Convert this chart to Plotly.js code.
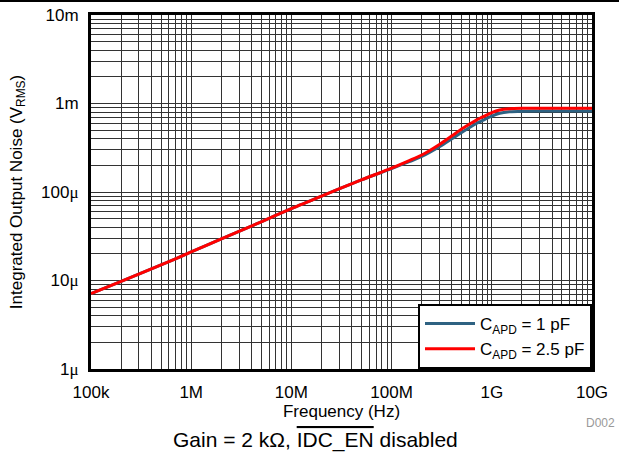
<!DOCTYPE html>
<html>
<head>
<meta charset="utf-8">
<script src="https://cdn.plot.ly/plotly-3.0.1.min.js"></script>
<style>html,body{margin:0;padding:0;background:#fff;}#chart{width:619px;height:457px;}</style>
</head>
<body>
<div id="chart"></div>
<script>
// Frequency (Hz)
const freq = [1e5, 2e5, 5e5, 1e6, 2e6, 5e6, 1e7, 2e7, 5e7, 1e8, 1.5e8, 2e8, 3e8, 4e8, 5e8, 6e8, 7e8, 8e8, 1e9, 1.2e9, 1.5e9, 2e9, 3e9, 5e9, 1e10];
// Integrated output noise (V RMS)
const noise1pF = [7.1e-6, 9.8e-6, 15.0e-6, 21e-6, 29.5e-6, 46e-6, 65e-6, 90e-6, 137e-6, 184e-6, 220e-6, 252e-6, 325e-6, 400e-6, 472e-6, 535e-6, 595e-6, 640e-6, 720e-6, 775e-6, 805e-6, 818e-6, 822e-6, 822e-6, 822e-6];
const noise2p5pF = [7.1e-6, 9.8e-6, 15.0e-6, 21e-6, 29.5e-6, 46e-6, 65e-6, 90e-6, 137e-6, 186e-6, 226e-6, 262e-6, 345e-6, 432e-6, 515e-6, 585e-6, 650e-6, 700e-6, 790e-6, 845e-6, 872e-6, 882e-6, 884e-6, 884e-6, 884e-6];
const seriesNames = ["C<sub>APD</sub> = 1 pF", "C<sub>APD</sub> = 2.5 pF"];
const xTickVals = [1e5, 1e6, 1e7, 1e8, 1e9, 1e10];
const xTickText = ["100k", "1M", "10M", "100M", "1G", "10G"];
const yTickVals = [1e-6, 1e-5, 1e-4, 1e-3, 1e-2];
const mu = "<span style=\"font-family:'Liberation Serif',serif\">μ</span>";
const yTickText = ["1" + mu, "10" + mu, "100" + mu, "1m", "10m"];

function minorVals(lo, hi) {
  const v = [];
  for (let e = lo; e < hi; e++) for (let m = 2; m <= 9; m++) v.push(m * Math.pow(10, e));
  return v;
}

const font = "Liberation Sans, Arial, sans-serif";
const gridC = "#333333";

const traces = [
  {x: freq, y: noise1pF, name: seriesNames[0], mode: "lines", line: {color: "#2e6282", width: 3, shape: "spline", smoothing: 0.8}},
  {x: freq, y: noise2p5pF, name: seriesNames[1], mode: "lines", line: {color: "#ff0000", width: 3, shape: "spline", smoothing: 0.8}}
];

const layout = {
  width: 619, height: 457,
  margin: {l: 91, r: 27, t: 15, b: 88},
  paper_bgcolor: "#fff", plot_bgcolor: "#fff",
  font: {family: font, size: 17, color: "#000"},
  showlegend: true,
  legend: {x: 1, y: 0, xanchor: "right", yanchor: "bottom", bgcolor: "#fff", bordercolor: "#000", borderwidth: 2,
           font: {family: font, size: 17, color: "#000"}, tracegroupgap: 0, itemwidth: 50},
  xaxis: {
    type: "log", range: [5, 10],
    tickmode: "array", tickvals: xTickVals, ticktext: xTickText,
    ticks: "", showgrid: true, gridcolor: gridC, gridwidth: 1,
    minor: {tickmode: "array", tickvals: minorVals(5, 10), showgrid: true, gridcolor: gridC, gridwidth: 1, ticks: ""},
    showline: true, linecolor: "#000", linewidth: 3, mirror: true, zeroline: false,
    tickfont: {family: font, size: 17}, ticklabelstandoff: 6,
    title: {text: "Frequency (Hz)", font: {family: font, size: 17}, standoff: 4}
  },
  yaxis: {
    type: "log", range: [-6, -2],
    tickmode: "array", tickvals: yTickVals, ticktext: yTickText,
    ticks: "", showgrid: true, gridcolor: gridC, gridwidth: 1,
    minor: {tickmode: "array", tickvals: minorVals(-6, -2), showgrid: true, gridcolor: gridC, gridwidth: 1, ticks: ""},
    showline: true, linecolor: "#000", linewidth: 3, mirror: true, zeroline: false,
    tickfont: {family: font, size: 17}, ticklabelstandoff: 6,
    title: {text: "Integrated Output Noise (V<sub>RMS</sub>)", font: {family: font, size: 17}, standoff: 15}
  },
  shapes: [
    {type: "line", xref: "paper", yref: "paper", x0: -0.19, x1: 1.06, y0: 1.0395, y1: 1.0395, line: {color: "#000", width: 2}}
  ],
  annotations: [
    {xref: "paper", yref: "paper", x: 0.449, y: -0.2006, xanchor: "center", yanchor: "middle", showarrow: false,
     text: "Gain = 2 kΩ, <span style=\"text-decoration:overline\">IDC_EN</span> disabled", font: {family: font, size: 21, color: "#000"}},
    {xref: "paper", yref: "paper", x: 1.0499, y: -0.153, xanchor: "right", yanchor: "middle", showarrow: false,
     text: "D002", font: {family: font, size: 12, color: "#999"}}
  ]
};

Plotly.newPlot("chart", traces, layout, {displayModeBar: false, staticPlot: true});
</script>
</body>
</html>
